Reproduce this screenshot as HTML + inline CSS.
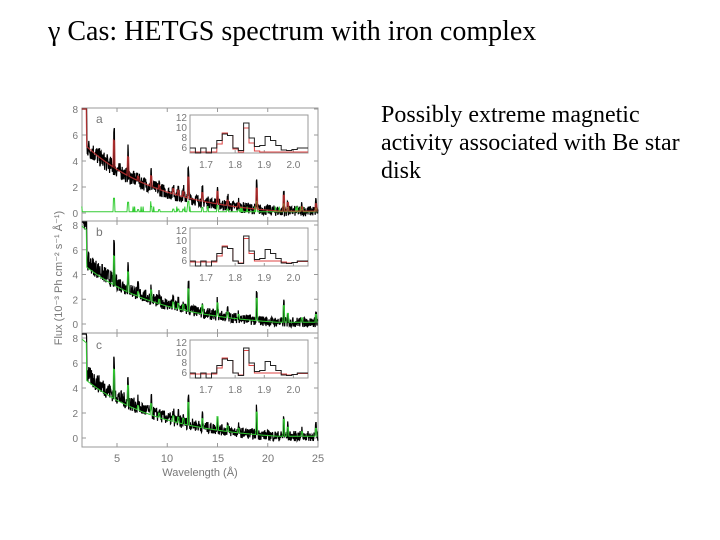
<!DOCTYPE html>
<html><head><meta charset="utf-8"><style>
body{margin:0;background:#fff;width:720px;height:540px;overflow:hidden;position:relative;font-family:"Liberation Serif",serif}
.t{position:absolute;left:48px;top:16px;font-size:28px;line-height:32px;color:#000;white-space:nowrap}
.r{position:absolute;left:381px;top:101px;font-size:24px;line-height:28px;color:#000;width:312px}
svg{position:absolute;left:0;top:0}
svg text{font-family:"Liberation Sans",sans-serif;fill:#777}
</style></head><body>
<div class="t">γ Cas: HETGS spectrum with iron complex</div>
<div class="r">Possibly extreme magnetic activity associated with Be star disk</div>
<svg id="s" width="720" height="540" xmlns="http://www.w3.org/2000/svg">
<text x="117" y="462" font-size="11" text-anchor="middle">5</text>
<text x="167" y="462" font-size="11" text-anchor="middle">10</text>
<text x="218" y="462" font-size="11" text-anchor="middle">15</text>
<text x="268" y="462" font-size="11" text-anchor="middle">20</text>
<text x="318" y="462" font-size="11" text-anchor="middle">25</text>
<text x="200" y="476" font-size="11" text-anchor="middle">Wavelength (Å)</text>
<text x="0" y="0" font-size="11" text-anchor="middle" transform="translate(62,278) rotate(-90)">Flux (10⁻³ Ph cm⁻² s⁻¹ Å⁻¹)</text>
<text x="96" y="123" font-size="12">a</text>
<text x="96" y="236" font-size="12">b</text>
<text x="96" y="349" font-size="12">c</text>
</svg>
<script>
var s=document.getElementById('s'),NS='http://www.w3.org/2000/svg';
function el(t,a,txt){var e=document.createElementNS(NS,t);for(var k in a)e.setAttribute(k,a[k]);if(txt)e.textContent=txt;s.appendChild(e);return e;}
var seed=7;function rnd(){seed=(seed*16807)%2147483647;return seed/2147483647;}
var panels=[{top:108,bot:221,y0:213,y8:109},{top:221,bot:333,y0:324,y8:225},{top:333,bot:447,y0:438,y8:338}];
function X(w){return 117+(w-5)*10.05;}
var lines=[[4.7,2.6],[6.1,1.8],[8.4,1],[12.1,2],[13.5,0.8],[15.0,1.2],[16.0,0.5],[18.9,2],[21.6,1.5],[22.0,0.8],[24.8,0.7],[10.6,0.5],[11.1,0.5],[11.6,0.5],[7.1,0.4],[9.2,0.4],[17.1,0.4],[23.4,0.4]];
function cont(w){return Math.max(0.15,7*Math.exp(-0.13*w)-0.3);}
panels.forEach(function(p,i){
 var sc=(p.y0-p.y8)/8;function Y(f){return Math.max(p.top+1,Math.min(p.bot-1,p.y0-f*sc));}
 el('rect',{x:82,y:p.top,width:236,height:p.bot-p.top,fill:'none',stroke:'#999','stroke-width':1});
 for(var v=0;v<=8;v+=2){el('text',{x:78,y:p.y0-v*sc+4,'font-size':10,'text-anchor':'end'},String(v));el('line',{x1:82,x2:86,y1:p.y0-v*sc,y2:p.y0-v*sc,stroke:'#999'});el('line',{x1:314,x2:318,y1:p.y0-v*sc,y2:p.y0-v*sc,stroke:'#999'});}
 for(var w=5;w<=25;w+=5){el('line',{x1:X(w),x2:X(w),y1:p.bot,y2:p.bot-4,stroke:'#999'});el('line',{x1:X(w),x2:X(w),y1:p.top,y2:p.top+4,stroke:'#999'});}
 var m='',g='',d='';
 for(var w=1.5;w<=25;w+=0.05){var c=cont(w);var pk=0;lines.forEach(function(l){if(Math.abs(w-l[0])<0.06)pk+=l[1];});
  var mf=c+pk*0.8+(w<2?3:0);m+=(m?'L':'M')+X(w).toFixed(1)+','+Y(mf).toFixed(1);
  var gf=i==0?(0.1+pk*0.4+(rnd()<0.05?0.4:0)):(c*0.9+pk*0.9+(w<2?3:0));g+=(g?'L':'M')+X(w).toFixed(1)+','+Y(gf).toFixed(1);}
 for(var w=1.5;w<=25;w+=0.03){var c=cont(w);var pk=0;lines.forEach(function(l){if(Math.abs(w-l[0])<0.05)pk+=l[1];});
  var f=c+pk+(w<2?3+rnd()*2:0)+(rnd()-0.5)*(0.8+c*0.15);d+=(d?'L':'M')+X(w).toFixed(1)+','+Y(f).toFixed(1);}
 el('path',{d:d,fill:'none',stroke:'#000','stroke-width':1.2});
 el('path',{d:g,fill:'none',stroke:'#3c3','stroke-width':1});
 if(i==0)el('path',{d:m,fill:'none',stroke:'#c33','stroke-width':1.3,opacity:0.8});
 var ix0=190,ix1=308,it=p.top+7,ib=p.top+45;
 function IX(w){return ix0+(w-1.645)*(ix1-ix0)/0.405;}function IY(v){return ib-(v-5)*(ib-it)/7.6;}
 el('rect',{x:ix0,y:it,width:ix1-ix0,height:ib-it,fill:'#fff',stroke:'#999'});
 [6,8,10,12].forEach(function(v){el('text',{x:ix0-3,y:IY(v)+3,'font-size':10,'text-anchor':'end'},String(v));});
 [1.7,1.8,1.9,2.0].forEach(function(v){el('text',{x:IX(v),y:ib+15,'font-size':10,'text-anchor':'middle'},v.toFixed(1));el('line',{x1:IX(v),x2:IX(v),y1:ib,y2:ib-3,stroke:'#999'});});
 var dat=[6,5,6,5,6,7.5,8.8,8.5,6,5.5,11,8,6.3,6.5,8.3,7.5,6.5,5.6,5.5,5.7,6,6];
 var mod=i==0?[5.2,5.2,5.2,5.2,5.2,6.8,9,8.5,5.8,5.2,10,7,5.4,5.2,5.2,5.2,5.2,5.2,5.2,5.2,5.2,5.2]:[5.8,5.8,5.8,5.8,5.8,7,9,8.5,6,5.6,10.5,7.5,6,6,6,6,6,5.8,5.6,5.7,5.9,5.9];
 function step(a,col){var q='';var bw=0.405/a.length;for(var k=0;k<a.length;k++){var x0=IX(1.645+k*bw),x1=IX(1.645+(k+1)*bw);q+=(k?'L':'M')+x0.toFixed(1)+','+IY(a[k]).toFixed(1)+'L'+x1.toFixed(1)+','+IY(a[k]).toFixed(1);}el('path',{d:q,fill:'none',stroke:col,'stroke-width':1});}
 step(mod,'#d44');step(dat,'#222');
});
</script>
</body></html>
